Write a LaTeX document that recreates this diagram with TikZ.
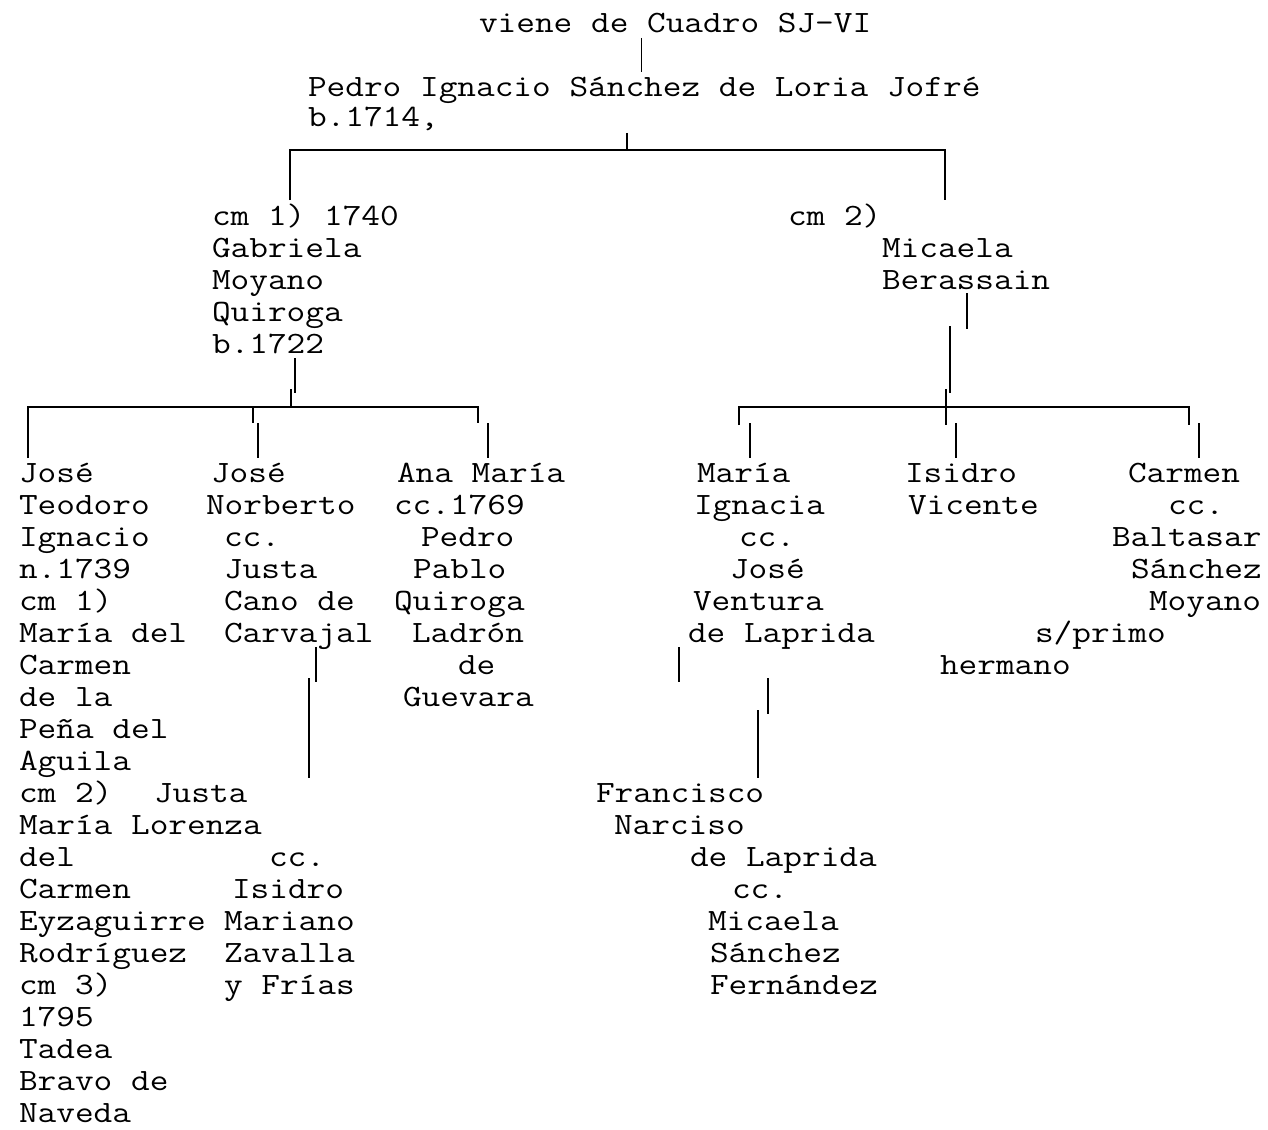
\documentclass[tikz,border=0pt]{standalone}
\usepackage{fontspec}
\setmonofont[FakeStretch=1.17]{Latin Modern Mono}
\begin{document}
\begin{tikzpicture}[x=1pt,y=-1pt,
  txt/.style={anchor=base west, inner sep=0pt, outer sep=0pt, font=\ttfamily\fontsize{31}{32}\selectfont},
  ln/.style={line width=1.9pt, line cap=butt}]
\useasboundingbox (0,0) rectangle (1268,1129);
% ---------- top ----------
\node[txt] (viene) at (479,33) {viene de Cuadro SJ-VI};
\node[txt] (pedro) at (308,97) {Pedro Ignacio Sánchez de Loria Jofré};
\node[txt] (pedrob) at (308,127) {b.1714,};
% ---------- first marriage ----------
\node[txt] (m1a) at (212,225) {cm 1) 1740};
\node[txt] (m1b) at (212,257) {Gabriela};
\node[txt] (m1c) at (212,289) {Moyano};
\node[txt] (m1d) at (212,321) {Quiroga};
\node[txt] (m1e) at (212,353) {b.1722};
% ---------- second marriage ----------
\node[txt] (m2a) at (788,225) {cm 2)};
\node[txt] (m2b) at (882,257) {Micaela};
\node[txt] (m2c) at (882,289) {Berassain};
% ---------- column 1 ----------
\foreach \t [count=\k from 0] in {José,Teodoro,Ignacio,n.1739,cm 1),María del,Carmen,de la,Peña del,Aguila,cm 2),María Lorenza,del,Carmen,Eyzaguirre,Rodríguez,cm 3),1795,Tadea,Bravo de,Naveda}
  \node[txt] (c1r\k) at (19,482+32*\k) {\t};
\node[txt] (c1j) at (154,802) {Justa};
% ---------- column 2 ----------
\node[txt] (c2a) at (211,482) {José};
\node[txt] (c2b) at (206,514) {Norberto};
\node[txt] (c2c) at (224,546) {cc.};
\node[txt] (c2d) at (224,578) {Justa};
\node[txt] (c2e) at (224,610) {Cano de};
\node[txt] (c2f) at (224,642) {Carvajal};
\node[txt] (c2g) at (269,866) {cc.};
\node[txt] (c2h) at (232,898) {Isidro};
\node[txt] (c2i) at (224,930) {Mariano};
\node[txt] (c2j) at (224,962) {Zavalla};
\node[txt] (c2k) at (224,994) {y Frías};
% ---------- column 3 ----------
\node[txt] (c3a) at (397,482) {Ana María};
\node[txt] (c3b) at (394,514) {cc.1769};
\node[txt] (c3c) at (421,546) {Pedro};
\node[txt] (c3d) at (413,578) {Pablo};
\node[txt] (c3e) at (394,610) {Quiroga};
\node[txt] (c3f) at (412,642) {Ladrón};
\node[txt] (c3g) at (458,674) {de};
\node[txt] (c3h) at (403,706) {Guevara};
% ---------- right columns ----------
\node[txt] (r1a) at (697,482) {María};
\node[txt] (r1b) at (694,514) {Ignacia};
\node[txt] (r1c) at (739,546) {cc.};
\node[txt] (r1d) at (730,578) {José};
\node[txt] (r1e) at (693,610) {Ventura};
\node[txt] (r1f) at (688,642) {de Laprida};
\node[txt] (r2a) at (905,482) {Isidro};
\node[txt] (r2b) at (908,514) {Vicente};
\node[txt] (r3a) at (1128,482) {Carmen};
\node[txt] (r3b) at (1168,514) {cc.};
\node[txt] (r3c) at (1112,546) {Baltasar};
\node[txt] (r3d) at (1131,578) {Sánchez};
\node[txt] (r3e) at (1149,610) {Moyano};
\node[txt] (r3f) at (1035,642) {s/primo};
\node[txt] (r3g) at (940,674) {hermano};
\node[txt] (f1) at (596,802) {Francisco};
\node[txt] (f2) at (614,834) {Narciso};
\node[txt] (f3) at (690,866) {de Laprida};
\node[txt] (f4) at (732,898) {cc.};
\node[txt] (f5) at (708,930) {Micaela};
\node[txt] (f6) at (710,962) {Sánchez};
\node[txt] (f7) at (710,994) {Fernández};
% ---------- connectors ----------
\draw[ln] (641.5,38) -- (641.5,72);
\draw[ln] (627,133) -- (627,150);
\draw[ln] (290,200) -- (290,150) -- (945,150) -- (945,200);
% first family
\draw[ln] (295,358) -- (295,393);
\draw[ln] (291,389) -- (291,407);
\draw[ln] (28,458) -- (28,407) -- (478,407) -- (478,423);
\draw[ln] (253,407) -- (253,423);
\draw[ln] (258,423) -- (258,458);
\draw[ln] (488,423) -- (488,458);
% second family
\draw[ln] (967,293) -- (967,329);
\draw[ln] (950,326) -- (950,393);
\draw[ln] (946,389) -- (946,425);
\draw[ln] (739,425) -- (739,407) -- (1189,407) -- (1189,425);
\draw[ln] (750,423) -- (750,458);
\draw[ln] (956,423) -- (956,458);
\draw[ln] (1199,423) -- (1199,458);
% Carvajal
\draw[ln] (316,647) -- (316,682);
\draw[ln] (309,678) -- (309,778);
% Laprida
\draw[ln] (679,647) -- (679,682);
\draw[ln] (768,678) -- (768,714);
\draw[ln] (758,710) -- (758,778);
\end{tikzpicture}
\end{document}
